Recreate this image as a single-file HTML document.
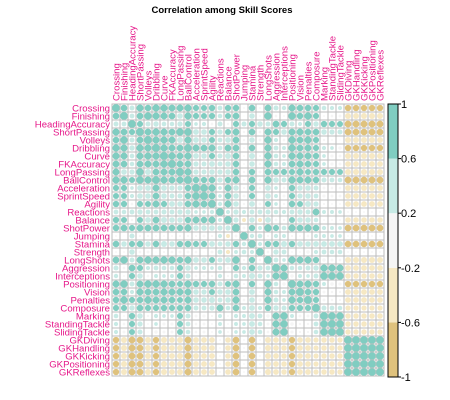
<!DOCTYPE html>
<html><head><meta charset="utf-8"><style>
html,body{margin:0;padding:0;background:#fff;width:450px;height:400px;overflow:hidden}
svg{display:block;font-family:"Liberation Sans",sans-serif}
</style></head><body>
<svg id="chart" width="450" height="400">
<text x="222" y="13" text-anchor="middle" font-size="9.5" font-weight="bold" fill="#000">Correlation among Skill Scores</text>
<g id="grid"></g><g id="labels"></g><g id="legend"></g>
</svg>
<script>
const variables = ["Crossing","Finishing","HeadingAccuracy","ShortPassing","Volleys","Dribbling","Curve","FKAccuracy","LongPassing","BallControl","Acceleration","SprintSpeed","Agility","Reactions","Balance","ShotPower","Jumping","Stamina","Strength","LongShots","Aggression","Interceptions","Positioning","Vision","Penalties","Composure","Marking","StandingTackle","SlidingTackle","GKDiving","GKHandling","GKKicking","GKPositioning","GKReflexes"];
// upper triangle rows: values for columns i+1..33
const upper = [
[.72,.40,.82,.70,.85,.83,.75,.78,.82,.62,.61,.66,.38,.64,.68,.05,.70,.05,.73,.42,.32,.78,.70,.68,.62,.35,.30,.28,-.66,-.66,-.65,-.66,-.66],
[.38,.72,.88,.80,.78,.71,.52,.79,.62,.60,.63,.35,.61,.72,.02,.50,.05,.89,.12,-.05,.89,.69,.86,.62,-.05,-.12,-.14,-.58,-.58,-.58,-.58,-.58],
[.62,.42,.48,.36,.34,.45,.61,.22,.30,.12,.40,.10,.62,.42,.62,.50,.40,.72,.62,.42,.28,.62,.48,.65,.62,.60,-.75,-.75,-.75,-.75,-.75],
[.75,.85,.78,.72,.90,.91,.55,.52,.62,.45,.60,.75,.10,.70,.12,.77,.62,.50,.75,.78,.70,.70,.50,.45,.42,-.72,-.72,-.72,-.72,-.72],
[.80,.82,.77,.58,.80,.55,.52,.60,.38,.55,.72,.10,.50,.15,.86,.30,.12,.86,.72,.84,.62,.10,.05,.02,-.58,-.58,-.58,-.58,-.58],
[.82,.73,.72,.93,.75,.72,.77,.38,.72,.72,.05,.68,.02,.80,.38,.25,.85,.72,.75,.62,.28,.22,.20,-.65,-.65,-.65,-.65,-.65],
[.86,.75,.80,.55,.50,.62,.42,.58,.70,.05,.58,.08,.84,.35,.22,.80,.78,.75,.65,.22,.18,.15,-.58,-.58,-.58,-.58,-.58],
[.75,.74,.45,.40,.55,.42,.52,.68,.05,.50,.12,.82,.35,.25,.72,.76,.70,.62,.22,.18,.15,-.55,-.55,-.55,-.55,-.55],
[.82,.45,.42,.52,.45,.50,.68,.10,.65,.15,.70,.62,.62,.62,.78,.60,.65,.62,.62,.60,-.58,-.58,-.58,-.58,-.58],
[.68,.65,.70,.45,.65,.78,.10,.72,.15,.80,.52,.40,.82,.75,.78,.68,.42,.38,.35,-.75,-.75,-.75,-.75,-.75],
[.90,.82,.22,.75,.50,.08,.62,-.12,.55,.22,.12,.65,.50,.52,.40,.15,.12,.12,-.56,-.56,-.56,-.56,-.56],
[.75,.22,.68,.50,.15,.62,.02,.52,.25,.15,.62,.45,.50,.38,.18,.15,.15,-.55,-.55,-.55,-.55,-.55],
[.32,.78,.52,.10,.55,-.15,.60,.22,.10,.68,.60,.58,.45,.08,.05,.05,-.55,-.55,-.55,-.55,-.55],
[.28,.45,.28,.40,.38,.42,.35,.30,.42,.48,.40,.75,.25,.25,.22,.05,.05,.05,.05,.05],
[.45,-.25,.50,-.30,.55,.15,.10,.60,.52,.50,.35,.05,.05,.05,-.52,-.52,-.52,-.52,-.52],
[.15,.65,.25,.88,.62,.35,.80,.72,.80,.70,.30,.25,.22,-.72,-.72,-.72,-.72,-.72],
[.32,.35,.10,.30,.25,.08,.05,.12,.25,.25,.22,.22,-.05,-.05,-.05,-.05,-.05],
[.30,.65,.65,.58,.65,.55,.52,.55,.55,.55,.55,-.70,-.70,-.70,-.70,-.70],
[.12,.45,.38,.05,.05,.20,.30,.38,.35,.35,.05,.05,.05,.05,.05],
[.38,.22,.86,.78,.82,.65,.20,.15,.12,-.58,-.58,-.58,-.58,-.58],
[.82,.35,.35,.40,.48,.82,.83,.80,-.55,-.55,-.55,-.55,-.55],
[.20,.25,.22,.40,.90,.92,.92,-.50,-.50,-.50,-.50,-.50],
[.75,.82,.65,.25,.20,.18,-.65,-.65,-.65,-.65,-.65],
[.70,.65,.15,.10,.08,-.55,-.55,-.55,-.55,-.55],
[.62,.15,.10,.08,-.55,-.55,-.55,-.55,-.55],
[.40,.38,.35,-.45,-.45,-.45,-.45,-.45],
[.92,.90,-.50,-.50,-.50,-.50,-.50],
[.95,-.50,-.50,-.50,-.50,-.50],
[-.48,-.48,-.48,-.48,-.48],
[.95,.95,.95,.95],
[.95,.95,.95],
[.95,.95],
[.95],
[]
];
const legendTicks = [1,0.6,0.2,-0.2,-0.6,-1];
const binColors = ["#DFC27D","#F6E8C3","#F5F5F5","#C7EAE5","#80CDC1"];

const N = variables.length, X0 = 112, Y0 = 104, CS = 8;
const NS = "http://www.w3.org/2000/svg";
function mk(tag, attrs, parent){const e=document.createElementNS(NS,tag);for(const k in attrs)e.setAttribute(k,attrs[k]);parent.appendChild(e);return e;}
function val(i,j){if(i===j)return 1;const a=Math.min(i,j),b=Math.max(i,j);return upper[a][b-a-1];}
function colorFor(v){const k=Math.min(4,Math.floor((v+1)/0.4));return binColors[k];}
function xPos(j){return X0+j*CS;}
function yPos(i){return Y0+i*CS;}
const grid=document.getElementById('grid');
for(let i=0;i<N;i++){for(let j=0;j<N;j++){
  const r=mk('rect',{x:xPos(j),y:yPos(i),width:CS,height:CS,fill:'#fff',stroke:'#BEBEBE','stroke-width':1},grid);
  
  
  const v=val(i,j);
  const c=mk('circle',{cx:xPos(j)+CS/2,cy:yPos(i)+CS/2,r:3.9*Math.sqrt(Math.abs(v)),fill:colorFor(v)},grid);
  
  
}}
const labels=document.getElementById('labels');
variables.forEach((name,i)=>{
  const t=mk('text',{x:X0-2,y:yPos(i)+CS/2+3.3,'text-anchor':'end','font-size':'9.6',fill:'#E6198A'},labels);
  t.textContent=name;
  
  
  const cx=xPos(i)+CS/2+3.3;
  const u=mk('text',{x:cx,y:Y0-3,transform:'rotate(-90 '+cx+' '+(Y0-3)+')','font-size':'9.6',fill:'#E6198A'},labels);
  u.textContent=name;
  
  
});
const legend=document.getElementById('legend');
const LX=388,LW=10,LT=104,LB=377;
function ly(v){return LB-(v+1)/2*(LB-LT);}
binColors.forEach((col,k)=>{
  const lo=-1+k*0.4,hi=lo+0.4;
  const r=mk('rect',{x:LX,y:ly(hi),width:LW,height:ly(lo)-ly(hi),fill:col},legend);
  
  
});
const bd=mk('rect',{x:LX,y:LT,width:LW,height:LB-LT,fill:'none',stroke:'#000','stroke-width':1},legend);


legendTicks.forEach(v=>{
  const y=ly(v);
  const l=mk('line',{x1:LX+LW,x2:LX+LW+3,y1:y,y2:y,stroke:'#000'},legend);
  
  
  const t=mk('text',{x:LX+LW+3,y:y+4,'font-size':'11',fill:'#000'},legend);
  t.textContent=String(v);
  
  
});
</script>
</body></html>
